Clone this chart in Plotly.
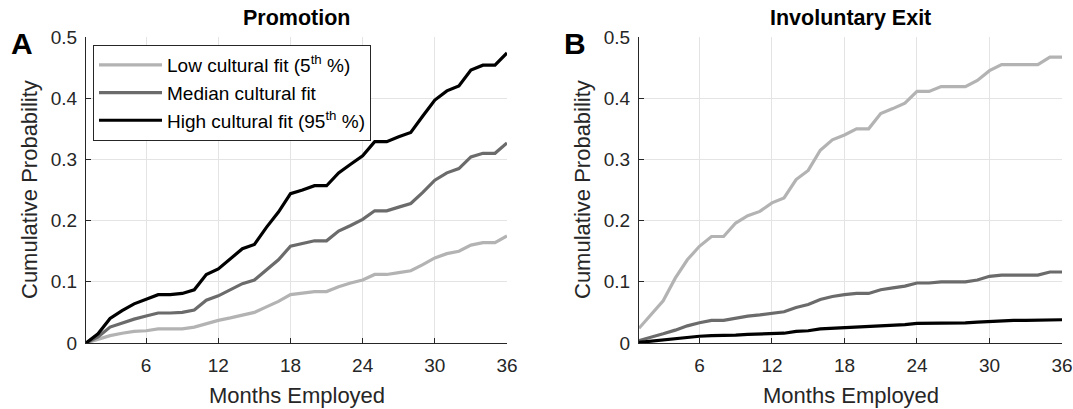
import plotly.graph_objects as go

months = list(range(1, 37))

promo_low = [0, 0.006, 0.012, 0.016, 0.019, 0.020, 0.023, 0.023, 0.023, 0.026, 0.032, 0.037,
             0.041, 0.046, 0.050, 0.059, 0.068, 0.079, 0.082, 0.084, 0.084, 0.092, 0.098, 0.103,
             0.112, 0.112, 0.115, 0.118, 0.128, 0.139, 0.146, 0.150, 0.160, 0.164, 0.164, 0.175]
promo_med = [0, 0.010, 0.026, 0.033, 0.039, 0.044, 0.049, 0.049, 0.050, 0.054, 0.070, 0.077,
             0.087, 0.097, 0.103, 0.119, 0.136, 0.158, 0.162, 0.167, 0.167, 0.183, 0.192, 0.202,
             0.216, 0.216, 0.222, 0.228, 0.246, 0.266, 0.278, 0.285, 0.304, 0.310, 0.310, 0.327]
promo_high = [0, 0.015, 0.040, 0.053, 0.064, 0.071, 0.079, 0.079, 0.081, 0.087, 0.112, 0.121,
              0.137, 0.154, 0.161, 0.189, 0.214, 0.244, 0.250, 0.257, 0.257, 0.278, 0.292, 0.306,
              0.329, 0.329, 0.337, 0.344, 0.371, 0.397, 0.412, 0.420, 0.446, 0.454, 0.454, 0.474]

exit_low = [0.024, 0.047, 0.069, 0.106, 0.136, 0.158, 0.174, 0.174, 0.196, 0.208, 0.215, 0.229,
            0.237, 0.267, 0.282, 0.315, 0.332, 0.340, 0.350, 0.350, 0.375, 0.383, 0.392, 0.411,
            0.411, 0.419, 0.419, 0.419, 0.429, 0.445, 0.455, 0.455, 0.455, 0.455, 0.467, 0.467]
exit_med = [0.004, 0.009, 0.015, 0.021, 0.028, 0.033, 0.037, 0.037, 0.041, 0.044, 0.046, 0.049,
            0.051, 0.058, 0.063, 0.071, 0.076, 0.079, 0.081, 0.081, 0.087, 0.090, 0.093, 0.098,
            0.098, 0.100, 0.100, 0.100, 0.103, 0.109, 0.111, 0.111, 0.111, 0.111, 0.116, 0.116]
exit_high = [0.001, 0.003, 0.005, 0.008, 0.009, 0.011, 0.012, 0.012, 0.013, 0.014, 0.015, 0.016,
             0.016, 0.019, 0.020, 0.023, 0.024, 0.025, 0.026, 0.026, 0.028, 0.029, 0.030, 0.032,
             0.032, 0.033, 0.033, 0.033, 0.034, 0.035, 0.037, 0.037, 0.037, 0.037, 0.038, 0.038]

series_names = ["Low cultural fit (5<sup>th</sup> %)", "Median cultural fit",
                "High cultural fit (95<sup>th</sup> %)"]
series_colors = ["#b3b3b3", "#6b6b6b", "#000000"]

x_ticks = [6, 12, 18, 24, 30, 36]
y_ticks = [0, 0.1, 0.2, 0.3, 0.4, 0.5]
y_tick_labels = ["0", "0.1", "0.2", "0.3", "0.4", "0.5"]

panel_titles = ["Promotion", "Involuntary Exit"]
panel_letters = ["A", "B"]
x_title = "Months Employed"
y_title = "Cumulative Probability"

FONT = "Liberation Sans, Arial, Helvetica, sans-serif"
AX = "#262626"

fig = go.Figure()

panels = [(promo_low, promo_med, promo_high), (exit_low, exit_med, exit_high)]
for p, data in enumerate(panels):
    xa = "x" if p == 0 else "x2"
    ya = "y" if p == 0 else "y2"
    for i, vals in enumerate(data):
        fig.add_trace(go.Scatter(
            x=months, y=vals, mode="lines", name=series_names[i],
            line=dict(color=series_colors[i], width=3.2),
            xaxis=xa, yaxis=ya, showlegend=(p == 0), legendgroup=str(i),
        ))

W, H = 1073, 409
L, R, T, B = 86, 11, 37, 66
pw = W - L - R
ph = H - T - B
left_dom = [0, (507 - L) / pw]
right_dom = [(639 - L) / pw, 1]

axis_common = dict(
    showline=True, linecolor=AX, linewidth=1, mirror=False, automargin=False,
    ticks="inside", ticklen=5, tickcolor=AX, tickwidth=1,
    showgrid=True, gridcolor="#e4e4e4", gridwidth=1, zeroline=False,
    tickfont=dict(family=FONT, size=19, color=AX),
)

fig.update_layout(
    width=W, height=H,
    margin=dict(l=L, r=R, t=T, b=B, autoexpand=False),
    plot_bgcolor="white", paper_bgcolor="white",
    font=dict(family=FONT, color=AX),
    xaxis=dict(domain=left_dom, range=[1, 36], tickvals=x_ticks, anchor="y",
               ticklabelstandoff=5, **axis_common),
    yaxis=dict(domain=[0, 1], range=[0, 0.5], tickvals=y_ticks, ticktext=y_tick_labels,
               anchor="x", ticklabelstandoff=4, **axis_common),
    xaxis2=dict(domain=right_dom, range=[1, 36], tickvals=x_ticks, anchor="y2",
                ticklabelstandoff=5, **axis_common),
    yaxis2=dict(domain=[0, 1], range=[0, 0.5], tickvals=y_ticks, ticktext=y_tick_labels,
                anchor="x2", ticklabelstandoff=4, **axis_common),
    legend=dict(
        x=(93 - L) / pw, y=(343 - 45) / ph, xanchor="left", yanchor="top",
        bgcolor="white", bordercolor=AX, borderwidth=1,
        font=dict(family=FONT, size=19, color="#000000"),
        traceorder="normal", itemwidth=63,
    ),
    showlegend=True,
)

annotations = []
centers = [(left_dom[0] + left_dom[1]) / 2, (right_dom[0] + right_dom[1]) / 2]
axis_left_px = [86, 639]
for p in range(2):
    annotations.append(dict(
        text="<b>" + panel_titles[p] + "</b>", xref="paper", yref="paper",
        x=centers[p], y=1 + 19 / ph, xanchor="center", yanchor="middle",
        showarrow=False, font=dict(family=FONT, size=21.5, color="#000000"),
    ))
    annotations.append(dict(
        text="<b>" + panel_letters[p] + "</b>", xref="paper", yref="paper",
        x=(axis_left_px[p] - 64 - L) / pw, y=1 - 6 / ph, xanchor="center", yanchor="middle",
        showarrow=False, font=dict(family=FONT, size=30, color="#000000"),
    ))
    annotations.append(dict(
        text=y_title, xref="paper", yref="paper", textangle=-90,
        x=(axis_left_px[p] - 57 - L) / pw, y=0.5, xanchor="center", yanchor="middle",
        showarrow=False, font=dict(family=FONT, size=22, color=AX),
    ))
    annotations.append(dict(
        text=x_title, xref="paper", yref="paper",
        x=centers[p], y=-(395 - 343) / ph, xanchor="center", yanchor="middle",
        showarrow=False, font=dict(family=FONT, size=22, color=AX),
    ))
fig.update_layout(annotations=annotations)

fig.write_html("out.html", config={"displayModeBar": False},
               post_script="document.body.style.margin='0';document.body.style.overflow='hidden';")
